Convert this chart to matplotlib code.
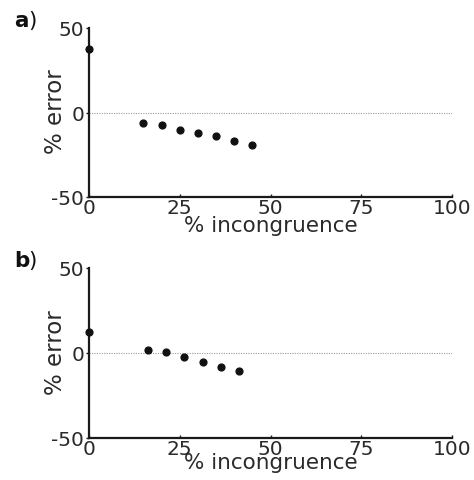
import matplotlib
matplotlib.use("Agg")
import matplotlib.pyplot as plt

x_a = [0, 15, 20, 25, 30, 35, 40, 45]
y_a = [37.5, -6.3, -7.3, -10.1, -11.9, -14.1, -17.1, -19.2]
x_b = [0, 16.3, 21.3, 26.3, 31.3, 36.3, 41.3]
y_b = [12.5, 1.6, 0.4, -2.5, -5.1, -8.4, -10.7]
xticks = [0, 25, 50, 75, 100]
yticks = [-50, 0, 50]
panel_labels = ["a", "b"]

W, H = 474, 481
plt.rcParams['font.family'] = ['DejaVu Sans']
plt.rcParams['axes.unicode_minus'] = False
fig = plt.figure(figsize=(W / 100, H / 100), dpi=100)

axes_px = [(89, 29, 452, 198), (89, 269, 452, 439)]
xlabel_base = [232, 469]
ylabel_center = [112, 353]
panel_label_top = [11, 251]
data = [(x_a, y_a), (x_b, y_b)]
txtcol = '#2a2a2a'
for (l, t, r, b), (xs, ys), lab, xb, yc, pt in zip(axes_px, data, panel_labels,
                                                  xlabel_base, ylabel_center,
                                                  panel_label_top):
    ax = fig.add_axes([l / W, 1 - b / H, (r - l) / W, (b - t) / H])
    ax.set_xlim(0, 100)
    ax.set_ylim(-50, 50)
    ax.axhline(0, color='#999999', lw=0.8, ls=(0, (1, 1.2)), zorder=1)
    ax.scatter(xs, ys, s=24, color='#111111', zorder=3, clip_on=False)
    for s in ['top', 'right']:
        ax.spines[s].set_visible(False)
    for s in ['left', 'bottom']:
        ax.spines[s].set_linewidth(1.6)
        ax.spines[s].set_color('#1a1a1a')
    ax.set_xticks(xticks)
    ax.set_yticks(yticks)
    ax.tick_params(axis='both', length=2.5, width=1.0, color='#1a1a1a',
                   labelsize=14.5, labelcolor=txtcol)
    ax.tick_params(axis='x', direction='in', pad=1)
    ax.tick_params(axis='y', pad=1)
    ax.set_xlabel('% incongruence', fontsize=15.5, color=txtcol, va='baseline')
    ax.xaxis.set_label_coords(0.5, (b - xb) / (b - t))
    ax.set_ylabel('% error', fontsize=16.5, color=txtcol, va='center')
    ax.yaxis.set_label_coords((55 - l) / (r - l), (b - yc) / (b - t))
    fig.text(14 / W, 1 - pt / H, lab, fontsize=15.5, fontweight='bold',
             ha='left', va='top', color='#111111')
    fig.text(28 / W, 1 - pt / H, ')', fontsize=15.5,
             ha='left', va='top', color='#111111')

fig.savefig('out.png', dpi=100)
